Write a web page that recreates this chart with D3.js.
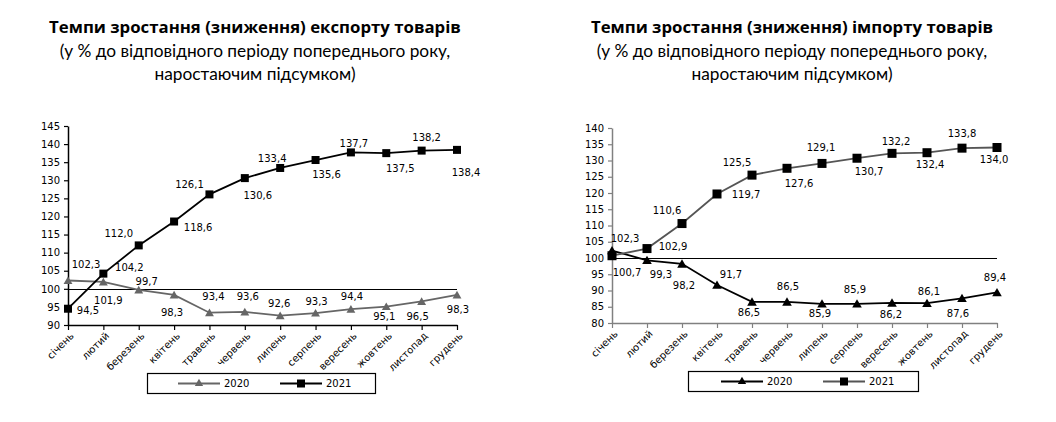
<!DOCTYPE html>
<html>
<head>
<meta charset="utf-8">
<script src="https://cdn.jsdelivr.net/npm/d3@7"></script>
<style>
  html, body { margin: 0; padding: 0; background: #fff; }
  svg { display: block; }
  .title { font-family: Lato, "Open Sans", sans-serif; font-size: 17.3px; fill: #000; }
  .title .bold { font-family: "Open Sans", Lato, sans-serif; font-size: 16.8px; font-weight: bold; }
  .num { font-family: "DejaVu Sans", sans-serif; font-size: 10px; fill: #000; }
</style>
</head>
<body>
<svg id="chart" width="1056" height="422"></svg>
<script>
// Month names (x categories)
const months = ["січень", "лютий", "березень", "квітень", "травень", "червень",
  "липень", "серпень", "вересень", "жовтень", "листопад", "грудень"];
const years = ["2020", "2021"];

// Export, % to same period of previous year (cumulative)
const export2020 = [102.3, 101.9, 99.7, 98.3, 93.4, 93.6, 92.6, 93.3, 94.4, 95.1, 96.5, 98.3];
const export2021 = [94.5, 104.2, 112.0, 118.6, 126.1, 130.6, 133.4, 135.6, 137.7, 137.5, 138.2, 138.4];
const exportTicks = [90, 95, 100, 105, 110, 115, 120, 125, 130, 135, 140, 145];

// Import, % to same period of previous year (cumulative)
const import2020 = [102.3, 99.3, 98.2, 91.7, 86.5, 86.5, 85.9, 85.9, 86.2, 86.1, 87.6, 89.4];
const import2021 = [100.7, 102.9, 110.6, 119.7, 125.5, 127.6, 129.1, 130.7, 132.2, 132.4, 133.8, 134.0];
const importTicks = [80, 85, 90, 95, 100, 105, 110, 115, 120, 125, 130, 135, 140];

// label offsets (dx, dy from the point to label centre) - hand placed like in the source
const lblExp20 = [[18,-16],[5,19],[8,-8],[-2,18],[4,-16],[3,-15],[-1,-12],[1,-12],[1,-13],[-2,10],[-4,15],[1,15]];
const lblExp21 = [[20,2],[26,-6],[-20,-12],[24,6],[-20,-10],[13,17],[-8,-9],[11,14],[3,-9],[14,15],[5,-13],[9,23]];
const lblImp20 = [[13,-12],[14,14],[2,22],[14,-10],[-3,11],[1,-15],[-2,10],[-2,-14],[-1,12],[2,-12],[-4,15],[-2,-15]];
const lblImp21 = [[15,17],[26,-2],[-15,-13],[29,1],[-15,-13],[12,15],[-1,-16],[12,13],[4,-12],[3,12],[0,-15],[-3,12]];

const fmt = v => d3.format(".1f")(v).replace(".", ",");
const svg = d3.select("#chart");

function drawChart(cfg) {
  const g = svg.append("g");

  // titles
  const t = g.append("text").attr("class", "title").attr("text-anchor", "middle");
  t.append("tspan").attr("class", "bold").attr("x", cfg.cx).attr("y", 33).text(cfg.title);
  t.append("tspan").attr("x", cfg.cx).attr("y", 57).text("(у % до відповідного періоду попереднього року,");
  t.append("tspan").attr("x", cfg.cx).attr("y", 80).text("наростаючим підсумком)");

  const x = d3.scalePoint().domain(months).range([cfg.x0, cfg.x1]).padding(0);
  const y = d3.scaleLinear().domain(d3.extent(cfg.ticks)).range([cfg.yb, cfg.yt]);

  // reference line at 100
  g.append("line")
    .attr("x1", cfg.x0).attr("x2", cfg.x1)
    .attr("y1", Math.round(y(100)) + 0.5).attr("y2", Math.round(y(100)) + 0.5)
    .attr("stroke", "#000").attr("stroke-width", 1.2);

  // y axis
  const ya = g.append("g").attr("transform", `translate(${cfg.x0},0)`)
    .call(d3.axisLeft(y).tickValues(cfg.ticks).tickSize(4).tickSizeOuter(0).tickPadding(4).tickFormat(d3.format("d")));
  ya.select(".domain").attr("stroke", cfg.axisColor).attr("stroke-width", 1.5);
  ya.selectAll(".tick line").attr("stroke", cfg.axisColor).attr("stroke-width", 1.2);
  ya.selectAll(".tick text").attr("class", "num").attr("fill", "#000").attr("font-family", null).attr("font-size", null);

  // x axis
  const xa = g.append("g").attr("transform", `translate(0,${cfg.yb})`)
    .call(d3.axisBottom(x).tickSize(5).tickSizeOuter(0).tickFormat(""));
  xa.select(".domain").attr("stroke", cfg.axisColor).attr("stroke-width", 1.5);
  xa.selectAll(".tick line").attr("stroke", cfg.axisColor).attr("stroke-width", 1.2);
  g.append("g").selectAll("text").data(months).join("text")
    .attr("class", "num")
    .attr("font-size", "10.5px")
    .attr("text-anchor", "end")
    .attr("transform", d => `translate(${x(d) + 4},${cfg.yb + 9}) rotate(-45)`)
    .attr("dy", "0.35em")
    .text(d => d);

  const line = d3.line().x((d, i) => x(months[i])).y(d => y(d));

  // 2020 series (triangles)
  g.append("path").datum(cfg.s20).attr("d", line)
    .attr("fill", "none").attr("stroke", cfg.c20).attr("stroke-width", 1.8);
  g.append("g").selectAll("path").data(cfg.s20).join("path")
    .attr("d", d3.symbol(d3.symbolTriangle, cfg.triSize))
    .attr("transform", (d, i) => `translate(${x(months[i])},${y(d) + 1})`)
    .attr("fill", cfg.m20);

  // 2021 series (squares)
  g.append("path").datum(cfg.s21).attr("d", line)
    .attr("fill", "none").attr("stroke", cfg.c21).attr("stroke-width", 1.8);
  g.append("g").selectAll("rect").data(cfg.s21).join("rect")
    .attr("x", (d, i) => x(months[i]) - cfg.sq / 2)
    .attr("y", d => y(d) - cfg.sq / 2)
    .attr("width", cfg.sq).attr("height", cfg.sq)
    .attr("fill", "#000");

  // data labels
  [[cfg.s20, cfg.l20], [cfg.s21, cfg.l21]].forEach(([s, off]) => {
    g.append("g").selectAll("text").data(s).join("text")
      .attr("class", "num").attr("text-anchor", "middle").attr("dy", "0.35em")
      .attr("x", (d, i) => x(months[i]) + off[i][0])
      .attr("y", (d, i) => y(d) + off[i][1])
      .text(d => fmt(d));
  });

  // legend
  const L = cfg.legend;
  g.append("rect").attr("x", L.x + 0.5).attr("y", L.y + 0.5).attr("width", L.w).attr("height", L.h)
    .attr("fill", "#fff").attr("stroke", "#000").attr("stroke-width", 1.2);
  const cy = L.y + L.h / 2 + 0.5;
  const items = [
    { name: years[0], x: L.i20, c: cfg.c20, m: "tri", mc: cfg.m20 },
    { name: years[1], x: L.i21, c: cfg.c21, m: "sq", mc: "#000" }
  ];
  items.forEach(it => {
    g.append("line").attr("x1", it.x).attr("x2", it.x + 42).attr("y1", cy).attr("y2", cy)
      .attr("stroke", it.c).attr("stroke-width", 1.8);
    if (it.m === "tri") {
      g.append("path").attr("d", d3.symbol(d3.symbolTriangle, 30))
        .attr("transform", `translate(${it.x + 21},${cy})`).attr("fill", it.mc);
    } else {
      g.append("rect").attr("x", it.x + 17).attr("y", cy - 4).attr("width", 8).attr("height", 8).attr("fill", it.mc);
    }
    g.append("text").attr("class", "num").attr("x", it.x + 46).attr("y", cy).attr("dy", "0.35em")
      .attr("font-size", "11px").text(it.name);
  });
}

drawChart({
  title: "Темпи зростання (зниження) експорту товарів",
  cx: 255, x0: 68, x1: 457, yt: 126, yb: 325,
  ticks: exportTicks, s20: export2020, s21: export2021,
  l20: lblExp20, l21: lblExp21,
  c20: "#666", m20: "#666", c21: "#000", sq: 8, triSize: 34,
  axisColor: "#000",
  legend: { x: 147, y: 373, w: 228, h: 20, i20: 178, i21: 280 }
});

drawChart({
  title: "Темпи зростання (зниження) імпорту товарів",
  cx: 792, x0: 612, x1: 997, yt: 128, yb: 323,
  ticks: importTicks, s20: import2020, s21: import2021,
  l20: lblImp20, l21: lblImp21,
  c20: "#000", m20: "#000", c21: "#555", sq: 9, triSize: 40,
  axisColor: "#808080",
  legend: { x: 688, y: 371, w: 230, h: 20, i20: 721, i21: 823 }
});
</script>
</body>
</html>
